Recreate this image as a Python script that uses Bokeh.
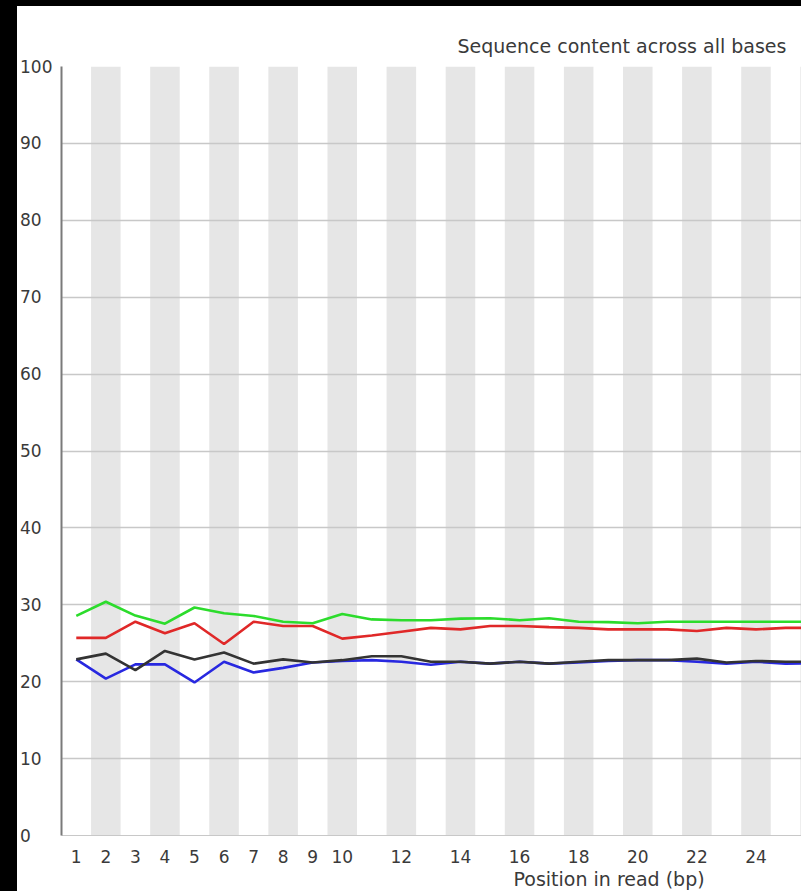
from bokeh.plotting import figure
from bokeh.models import Range1d, FixedTicker, Title, Div
from bokeh.layouts import row, column
from bokeh.embed import file_html
from bokeh.resources import INLINE

# ---- data ----
positions = list(range(1, 27))
pct_g = [22.9, 23.65, 21.5, 24.0, 22.9, 23.8, 22.35, 22.9, 22.5, 22.8, 23.3, 23.3, 22.6,
         22.6, 22.35, 22.6, 22.35, 22.6, 22.8, 22.8, 22.8, 23.0, 22.5, 22.7, 22.6, 22.6]
pct_a = [28.55, 30.4, 28.6, 27.55, 29.65, 28.9, 28.55, 27.8, 27.6, 28.8, 28.1, 28.0, 28.0,
         28.2, 28.25, 28.0, 28.25, 27.8, 27.75, 27.6, 27.8, 27.8, 27.8, 27.8, 27.8, 27.8]
pct_t = [25.7, 25.7, 27.8, 26.3, 27.6, 24.9, 27.8, 27.25, 27.25, 25.6, 26.0, 26.5, 27.0,
         26.8, 27.25, 27.25, 27.1, 27.0, 26.8, 26.8, 26.8, 26.6, 27.0, 26.8, 27.0, 27.0]
pct_c = [22.9, 20.4, 22.25, 22.25, 19.9, 22.6, 21.2, 21.8, 22.5, 22.7, 22.8, 22.6, 22.2,
         22.6, 22.35, 22.6, 22.35, 22.5, 22.7, 22.8, 22.8, 22.6, 22.35, 22.6, 22.35, 22.4]
x_ticks = [1, 2, 3, 4, 5, 6, 7, 8, 9, 10, 12, 14, 16, 18, 20, 22, 24, 26]
y_ticks = [0, 10, 20, 30, 40, 50, 60, 70, 80, 90, 100]
title_text = "Sequence content across all bases"
x_title = "Position in read (bp)"

FONT = "DejaVu Sans"
TXT = "#3a3a3a"
FS = "17px"
FS_TITLE = "19px"

p = figure(width=784, height=885, output_backend="svg", toolbar_location=None,
           x_range=Range1d(0.5, 25.54), y_range=Range1d(0, 100),
           min_border_left=44, min_border_right=0, min_border_top=60, min_border_bottom=56)
p.outline_line_color = None
p.background_fill_color = "white"
p.border_fill_color = "white"

# title (left edge placed as in the cropped reference)
p.title.text = title_text
p.title.align = "left"
p.title.offset = 396
p.title.standoff = 19
p.title.text_font = FONT
p.title.text_font_size = FS_TITLE
p.title.text_font_style = "normal"
p.title.text_color = TXT

# alternating shaded columns
even = [k for k in positions if k % 2 == 0]
p.quad(left=[k - 0.5 for k in even], right=[k + 0.5 for k in even],
       bottom=0, top=100, fill_color="#e6e6e6", line_color=None, level="image")

# grid
p.xgrid.visible = False
p.ygrid.ticker = FixedTicker(ticks=y_ticks)
p.ygrid.grid_line_color = "#c8c8c8"
p.ygrid.grid_line_width = 1.3

# lines
p.line(positions, pct_t, line_color="#e02828", line_width=2.6)
p.line(positions, pct_c, line_color="#2828e0", line_width=2.6)
p.line(positions, pct_a, line_color="#2cdc2c", line_width=2.6)
p.line(positions, pct_g, line_color="#333333", line_width=2.6)

# axes
p.xaxis.ticker = FixedTicker(ticks=x_ticks)
p.xaxis.major_tick_line_color = None
p.xaxis.minor_tick_line_color = None
p.xaxis.axis_line_color = "#c8c8c8"
p.xaxis.major_label_text_font = FONT
p.xaxis.major_label_text_font_size = FS
p.xaxis.major_label_text_color = TXT
p.xaxis.major_label_standoff = 8

# y labels are left-aligned in the reference: pad with figure spaces (digit width)
widest = max(len(str(v)) for v in y_ticks)
p.yaxis.ticker = FixedTicker(ticks=y_ticks)
p.yaxis.major_label_overrides = {v: str(v) + "\u2007" * (widest - len(str(v))) for v in y_ticks}
p.yaxis.major_tick_line_color = None
p.yaxis.minor_tick_line_color = None
p.yaxis.axis_line_color = "#7a7a7a"
p.yaxis.axis_line_width = 2
p.yaxis.major_label_text_font = FONT
p.yaxis.major_label_text_font_size = FS
p.yaxis.major_label_text_color = TXT
p.yaxis.major_label_standoff = 3

# x-axis title, placed right of centre as in the cropped reference
p.add_layout(Title(text=x_title, align="left", offset=452, standoff=0,
                   text_font=FONT, text_font_size=FS_TITLE, text_font_style="normal",
                   text_color=TXT), "below")

top_edge = Div(width=801, height=6, margin=0, styles={"background-color": "black"})
left_edge = Div(width=17, height=885, margin=0, styles={"background-color": "black"})
layout = column(top_edge, row(left_edge, p))

open("out.html", "w").write(file_html(layout, INLINE))
